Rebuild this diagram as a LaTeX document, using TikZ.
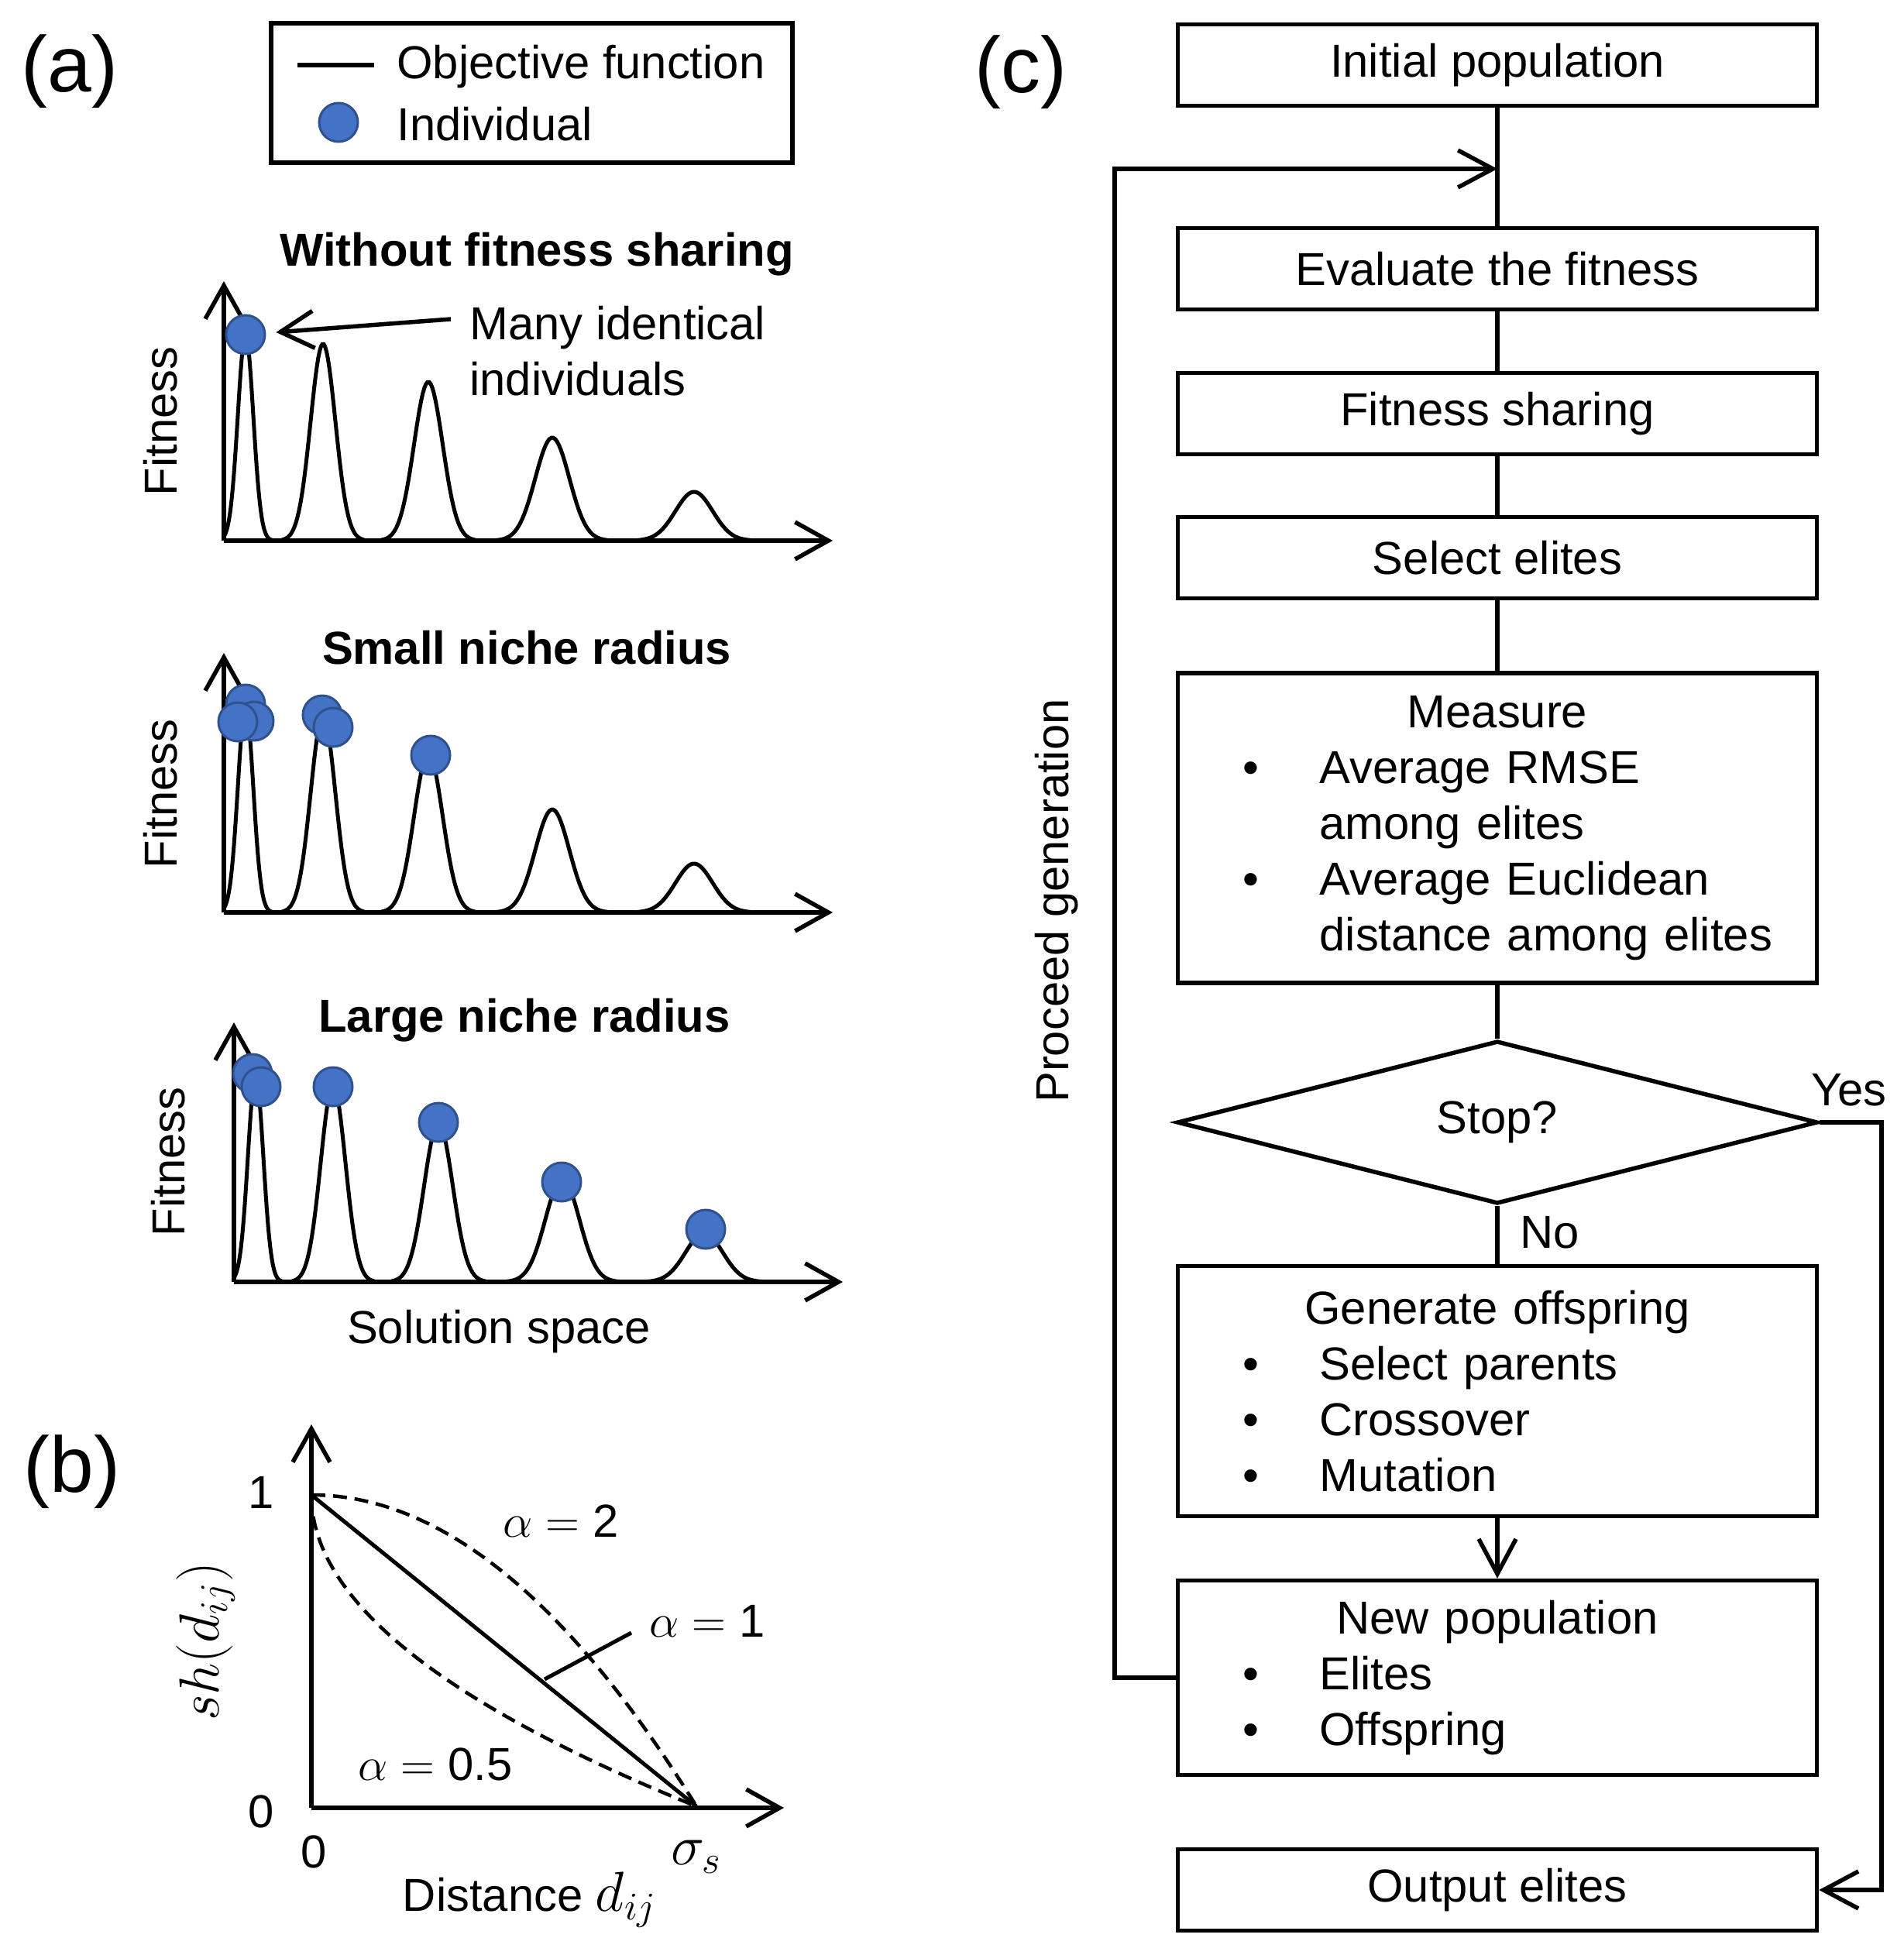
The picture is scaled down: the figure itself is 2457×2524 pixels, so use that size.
\documentclass[tikz,border=0pt]{standalone}
\usepackage{amsmath}
\usepackage{fontspec}
\setmainfont{Liberation Sans}
\usetikzlibrary{arrows.meta}
\usetikzlibrary{positioning}
\usetikzlibrary{shapes.geometric}

\definecolor{dotblue}{RGB}{68,114,196}
\definecolor{dotedge}{RGB}{47,82,143}

\newcommand{\bitem}{\hspace*{5.4mm}\textbullet\hspace*{7.8mm}}
\newcommand{\bcont}{\hspace*{15.3mm}}

\begin{document}
\begin{tikzpicture}[x=0.1mm, y=-0.1mm, line width=0.55mm,
				font=\fontsize{17}{20.5}\selectfont,
				axis/.style={-{Straight Barb[length=4.3mm,width=4.8mm]}},
				flow/.style={-{Straight Barb[length=4.5mm,width=4.8mm]}},
				curve/.style={line width=0.5mm},
				shcurve/.style={line width=0.45mm, dash pattern=on 1.8mm off 1mm},
				dot/.style={circle, draw=dotedge, line width=0.3mm, fill=dotblue, inner sep=0pt, minimum size=5mm},
				heading/.style={font=\fontsize{17}{20.5}\selectfont\bfseries},
				panel/.style={font=\fontsize{29}{35}\selectfont},
				bigmath/.style={font=\fontsize{20}{24}\selectfont},
				flowbox/.style={draw, minimum width=82.5mm, minimum height=10.5mm, inner sep=0pt},
				listbox/.style={flowbox, text width=76.5mm, align=left, inner xsep=3mm},
				]
				\useasboundingbox (0,0) rectangle (2457,2524);

				% Panel labels
				\node[panel] (lab-a) at (90,92) {(a)};
				\node[panel] (lab-b) at (93,1900) {(b)};
				\node[panel] (lab-c) at (1318,93) {(c)};

				% Legend
				\node[draw, minimum width=67.3mm, minimum height=18mm, inner sep=0pt] (legend) at (686.5,120) {};
				\draw (384,84) -- (483,84);
				\node[dot] (legdot) at (437,158) {};
				\node[anchor=west] (legobj) at (498,86) {Objective function};
				\node[anchor=west] (legind) at (498,160) {Individual};

				% Without fitness sharing
				\node[heading] (head1) at (693,328) {Without fitness sharing};
				\draw[axis] (289,698) -- (289,363);
				\draw[axis] (289,698) -- (1075,698);
				\draw[curve] plot[domain=289:352, samples=50] (\x,{698-266*exp(-((\x-317)^2)/200)});
				\draw[curve] plot[domain=364:470, samples=60] (\x,{698-254*exp(-((\x-417)^2)/512)});
				\draw[curve] plot[domain=492:614, samples=60] (\x,{698-205*exp(-((\x-553)^2)/684.5)});
				\draw[curve] plot[domain=640:786, samples=60] (\x,{698-133*exp(-((\x-713)^2)/968)});
				\draw[curve] plot[domain=817:975, samples=60] (\x,{698-63*exp(-((\x-896)^2)/1152)});
				\node[rotate=90] (fit1) at (207,544) {Fitness};

				% Small niche radius
				\node[heading] (head2) at (680,836) {Small niche radius};
				\begin{scope}[shift={(0,480)}]
					\draw[axis] (289,698) -- (289,363);
					\draw[axis] (289,698) -- (1075,698);
					\draw[curve] plot[domain=289:352, samples=50] (\x,{698-266*exp(-((\x-317)^2)/200)});
					\draw[curve] plot[domain=364:470, samples=60] (\x,{698-254*exp(-((\x-417)^2)/512)});
					\draw[curve] plot[domain=492:614, samples=60] (\x,{698-205*exp(-((\x-553)^2)/684.5)});
					\draw[curve] plot[domain=640:786, samples=60] (\x,{698-133*exp(-((\x-713)^2)/968)});
					\draw[curve] plot[domain=817:975, samples=60] (\x,{698-63*exp(-((\x-896)^2)/1152)});
				\end{scope}
				\node[rotate=90] (fit2) at (207,1025) {Fitness};

				% Large niche radius
				\node[heading] (head3) at (677,1317) {Large niche radius};
				\begin{scope}[shift={(13,957)}]
					\draw[axis] (289,698) -- (289,363);
					\draw[axis] (289,698) -- (1075,698);
					\draw[curve] plot[domain=289:352, samples=50] (\x,{698-266*exp(-((\x-317)^2)/200)});
					\draw[curve] plot[domain=364:470, samples=60] (\x,{698-254*exp(-((\x-417)^2)/512)});
					\draw[curve] plot[domain=492:614, samples=60] (\x,{698-205*exp(-((\x-553)^2)/684.5)});
					\draw[curve] plot[domain=640:786, samples=60] (\x,{698-133*exp(-((\x-713)^2)/968)});
					\draw[curve] plot[domain=817:975, samples=60] (\x,{698-63*exp(-((\x-896)^2)/1152)});
				\end{scope}
				\node[rotate=90] (fit3) at (217,1500) {Fitness};
				\node (space) at (644,1719) {Solution space};

				% Individuals
				\node[dot] (w1) at (317,432) {};
				\node[dot] (s1) at (317,909) {};
				\node[dot] (s2) at (328,931) {};
				\node[dot] (s3) at (307,932) {};
				\node[dot] (s4) at (416,923) {};
				\node[dot] (s5) at (430,939) {};
				\node[dot] (s6) at (556,975) {};
				\node[dot] (l1) at (326,1386) {};
				\node[dot] (l2) at (337,1403) {};
				\node[dot] (l3) at (430,1403) {};
				\node[dot] (l4) at (566,1449) {};
				\node[dot] (l5) at (725,1526) {};
				\node[dot] (l6) at (911,1587) {};

				% Annotation
				\node[anchor=west, align=left] (many) at (592,453) {Many identical\\individuals};
				\coordinate (manytail) at (582,412);
				\draw[axis, shorten >=1.3mm] (manytail) -- (w1);

				% Sharing function
				\coordinate (b0) at (402,2332);
				\coordinate (b1) at (402,1930);
				\coordinate (bs) at (899,2332);
				\draw[axis] (402,2334) -- (402,1839);
				\draw[axis] (402,2334) -- (1012,2334);
				\draw[line width=0.5mm] (b1) -- (bs);
				\draw[shcurve] plot[domain=0:1, samples=60] ({402+497*\x},{1930+402*\x*\x});
				\draw[shcurve] plot[domain=0:1, samples=60] ({402+497*\x*\x},{1930+402*\x});
				\draw[line width=0.5mm] (703,2168) -- (815,2108);
				\node (one) at (337,1927) {1};
				\node (zeroy) at (337,2339) {0};
				\node (zerox) at (405,2391) {0};
				\node[bigmath] (sigma) at (899,2397) {$\sigma_s$};
				\node (dist) at (684,2453) {Distance {\fontsize{20}{24}\selectfont$d_{ij}$}};
				\node[rotate=90, bigmath] (sh) at (266,2119) {$sh(d_{ij})$};
				\node (alpha2) at (724,1964) {$\alpha = \text{2}$};
				\node (alpha1) at (913,2093) {$\alpha = \text{1}$};
				\node (alpha05) at (562,2278) {$\alpha = \text{0.5}$};

				% Flow chart
				\node[flowbox] (init) at (1933,84) {Initial population};
				\node[flowbox] (eval) at (1933,347) {Evaluate the fitness};
				\node[flowbox] (share) at (1933,534) {Fitness sharing};
				\node[flowbox] (elite) at (1933,720) {Select elites};
				\node[listbox, minimum height=40mm] (measure) at (1933,1069) {%
					\makebox[\linewidth]{Measure}\\
					\bitem Average RMSE\\
					\bcont among elites\\
					\bitem Average Euclidean\\
					\bcont distance among elites};
				\node[diamond, draw, minimum width=82.7mm, minimum height=19.3mm, inner sep=0pt] (stop) at (1933,1449) {Stop?};
				\node[listbox, minimum height=32.3mm] (offspr) at (1933,1796) {%
					\makebox[\linewidth]{Generate offspring}\\
					\bitem Select parents\\
					\bitem Crossover\\
					\bitem Mutation};
				\node[listbox, minimum height=25.1mm] (newpop) at (1933,2166) {%
					\makebox[\linewidth]{New population}\\
					\bitem Elites\\
					\bitem Offspring};
				\node[flowbox] (output) at (1933,2440) {Output elites};

				% Connectors
				\coordinate (merge) at (1933,218);
				\coordinate (back) at (1439,218);
				\coordinate (yesturn) at (2429,1449);
				\draw (init) -- (eval);
				\draw (eval) -- (share);
				\draw (share) -- (elite);
				\draw (elite) -- (measure);
				\draw (measure) -- (stop);
				\draw (stop) -- (offspr);
				\draw[flow] (offspr) -- (newpop);
				\draw[flow] (newpop.west) -| (back) -- (merge);
				\draw[flow] (stop.east) -- (yesturn) |- (output.east);

				% Labels
				\node (yes) at (2387,1407) {Yes};
				\node (no) at (2001,1591) {No};
				\node[rotate=90] (proceed) at (1364,1163) {Proceed generation};
			\end{tikzpicture}
\end{document}
